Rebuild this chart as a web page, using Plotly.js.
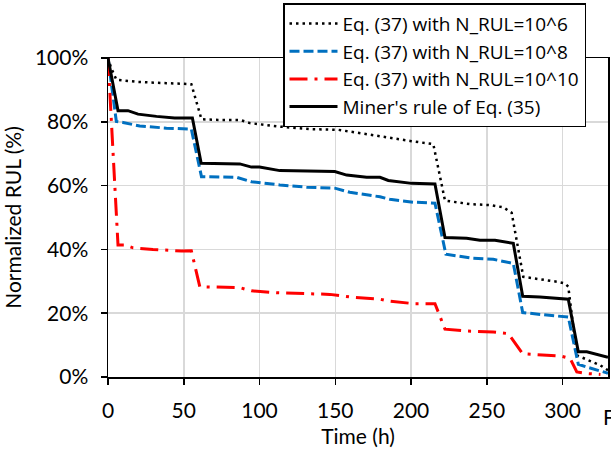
<!DOCTYPE html>
<html>
<head>
<meta charset="utf-8">
<script src="https://cdn.plot.ly/plotly-3.0.1.min.js"></script>
<style>html,body{margin:0;padding:0;background:#fff;}#chart{width:611px;height:457px;}</style>
</head>
<body>
<div id="chart"></div>
<script>
// Eq. (37) with N_RUL=10^6 (dotted black)
const xN6 = [0, 2, 5.5, 19.8, 38.6, 55, 61.7, 72.7, 87, 93.6, 113.4, 133.2, 151.9, 166.2, 181.6, 199.3, 214.7, 222.4, 238.9, 252.1, 260.9, 266.4, 274.1, 285, 297.2, 301.6, 303.8, 309.4, 316, 324.8, 330];
const yN6 = [100, 97, 93.2, 92.5, 92.1, 91.8, 80.8, 80.6, 80.6, 79.6, 78.5, 77.7, 77.5, 76.4, 75.2, 74.0, 73.0, 55.3, 54.2, 53.9, 53.2, 51.5, 31.4, 30.7, 29.8, 29.3, 28.3, 6.8, 5.5, 3.7, 2.1];
// Eq. (37) with N_RUL=10^8 (dashed blue)
const xN8 = [0, 5.5, 9.9, 20.9, 38.6, 55, 61.7, 84.8, 94.7, 113.4, 131, 149.7, 159.6, 179.5, 186, 201.5, 215.8, 223, 241, 254.3, 267.5, 273.7, 289.6, 303.8, 310.4, 316, 329.2, 330];
const yN8 = [100, 80.1, 79.8, 78.7, 78.0, 77.7, 62.8, 62.6, 61.2, 60.2, 59.5, 59.2, 57.9, 56.5, 55.7, 54.8, 54.5, 38.5, 37.2, 36.9, 35.6, 20.2, 19.4, 18.8, 4.0, 3.1, 1.3, 1.1];
// Eq. (37) with N_RUL=10^10 (dash-dot red)
const xN10 = [0, 3.3, 6.6, 11, 16.5, 29.7, 48.5, 55, 60.6, 87, 94.7, 111.2, 135.4, 146.4, 159.6, 179.5, 183.9, 201.5, 215.8, 222.4, 236.7, 254.3, 264.2, 273.7, 289.6, 299.5, 305, 309.4, 316, 325];
const yN10 = [100, 71, 41.4, 41.4, 40.5, 40.0, 39.5, 39.6, 28.3, 28.0, 27.0, 26.4, 26.0, 25.9, 25.1, 24.4, 23.9, 23.0, 23.0, 15.0, 14.4, 14.1, 13.6, 7.3, 6.8, 6.5, 5.8, 1.6, 1.1, 0.8];
// Miner's rule of Eq. (35) (solid black)
const xMiner = [0, 6.6, 13.2, 19.8, 32, 44, 55.7, 61.5, 87, 94.7, 100, 113.4, 149.7, 157.5, 170.7, 179.5, 185, 200.4, 215.8, 222.4, 236.7, 245.5, 255.4, 267.5, 273.7, 285, 303.8, 310.4, 316, 329.2, 330];
const yMiner = [100, 83.5, 83.5, 82.4, 81.7, 81.2, 81.2, 67.0, 66.8, 65.8, 65.8, 64.7, 64.4, 63.3, 62.6, 62.6, 61.6, 60.7, 60.5, 43.7, 43.5, 42.9, 42.9, 41.9, 25.3, 25.1, 24.4, 7.9, 7.9, 6.3, 6.2];

const names = ["Eq. (37) with N_RUL=10^6", "Eq. (37) with N_RUL=10^8", "Eq. (37) with N_RUL=10^10", "Miner's rule of Eq. (35)"];
const xTicks = [0, 50, 100, 150, 200, 250, 300];
const yTicks = [0, 20, 40, 60, 80, 100];
const yTickText = ["0%", "20%", "40%", "60%", "80%", "100%"];

const FONT = "Lato, 'Liberation Sans', sans-serif";
const LFONT = "'Open Sans', 'Noto Sans', sans-serif";
const FS = 21;

const traces = [
  {x: xN6, y: yN6, name: names[0], mode: "lines", line: {color: "#000000", width: 2.5, dash: "2.5px,4px"}},
  {x: xN8, y: yN8, name: names[1], mode: "lines", line: {color: "#0070C0", width: 3, dash: "10px,4px"}},
  {x: xN10, y: yN10, name: names[2], mode: "lines", line: {color: "#FF0000", width: 3, dash: "18px,7px,3px,7px"}},
  {x: xMiner, y: yMiner, name: names[3], mode: "lines", line: {color: "#000000", width: 3}}
];

const layout = {
  width: 611, height: 457,
  margin: {l: 108, r: 3, t: 58, b: 80, autoexpand: false},
  paper_bgcolor: "#ffffff", plot_bgcolor: "#ffffff",
  font: {family: FONT, size: FS, color: "#000000"},
  showlegend: true,
  legend: {
    x: 0.35, y: 1.172, xanchor: "left", yanchor: "top",
    bgcolor: "#ffffff", bordercolor: "#000000", borderwidth: 1.5,
    font: {family: LFONT, size: 19, color: "#000000"},
    itemwidth: 48, tracegroupgap: 0
  },
  xaxis: {
    range: [0, 330], tickvals: xTicks, ticktext: xTicks.map(String),
    showgrid: true, gridcolor: "#d9d9d9", gridwidth: 1.5,
    showline: true, linecolor: "#000000", linewidth: 1.5, mirror: true,
    ticks: "outside", ticklen: 6, tickcolor: "#000000", tickwidth: 1.5,
    ticklabelstandoff: 8,
    zeroline: false,
    tickfont: {family: FONT, size: FS, color: "#000000"},
    title: {text: "Time (h)", font: {family: FONT, size: FS, color: "#000000"}, standoff: 8}
  },
  yaxis: {
    range: [0, 100], tickvals: yTicks, ticktext: yTickText,
    showgrid: true, gridcolor: "#d9d9d9", gridwidth: 1.5,
    showline: true, linecolor: "#000000", linewidth: 1.5, mirror: true,
    ticks: "outside", ticklen: 6, tickcolor: "#000000", tickwidth: 1.5,
    ticklabelstandoff: 8,
    zeroline: false,
    tickfont: {family: FONT, size: FS, color: "#000000"},
    title: {text: "Normalized RUL (%)", font: {family: FONT, size: FS, color: "#000000"}, standoff: 10}
  },
  annotations: [
    {text: "F", xref: "paper", yref: "paper", x: 1, y: 0, xanchor: "left", yanchor: "top", xshift: -7, yshift: -25, showarrow: false, font: {family: FONT, size: FS, color: "#000000"}}
  ]
};

Plotly.newPlot("chart", traces, layout, {staticPlot: true, displayModeBar: false});
</script>
</body>
</html>
